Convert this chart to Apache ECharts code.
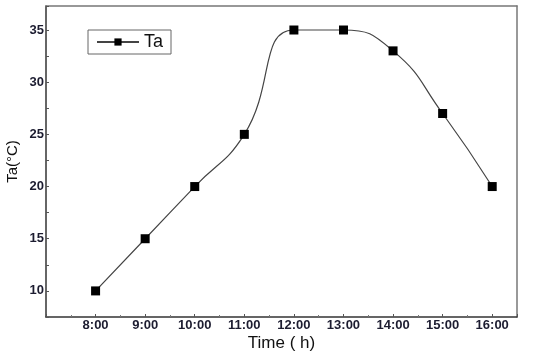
<!DOCTYPE html>
<html><head><meta charset="utf-8">
<script src="https://cdn.jsdelivr.net/npm/echarts@6/dist/echarts.min.js"></script>
<style>html,body{margin:0;padding:0;background:#fff}#c{width:550px;height:359px}</style>
</head><body><div id="c"></div>
<script>
const hours = [8, 9, 10, 11, 12, 13, 14, 15, 16];
const ta = [10, 15, 20, 25, 35, 35, 33, 27, 20];
const seriesName = 'Ta';
const xTitle = 'Time\u00a0( h)';
const yTitle = 'Ta(°C)';

const chart = echarts.init(document.getElementById('c'));
const lblColor = '#1c1c30';
chart.setOption({
  animation: false,
  grid: {left: 46, top: 6, right: 33, bottom: 42, containLabel: false, outerBoundsMode: 'none'},
  legend: {
    data: [{name: seriesName}],
    left: 88, top: 30, itemWidth: 42, itemHeight: 9, itemGap: 4, padding: [3, 8, 3, 8],
    borderColor: '#666', borderWidth: 1, borderRadius: 0,
    textStyle: {fontSize: 18, color: '#111', fontFamily: 'Liberation Sans'}
  },
  xAxis: [{
    type: 'value', min: 7, max: 16.5, interval: 1,
    name: xTitle, nameLocation: 'middle', nameGap: 18, nameMoveOverlap: false,
    nameTextStyle: {fontSize: 17, color: '#111', fontFamily: 'Liberation Sans'},
    axisLine: {lineStyle: {color: '#333', width: 1.5}},
    axisTick: {inside: true, length: 3, lineStyle: {color: '#555'}},
    minorTick: {show: true, splitNumber: 2, length: 2, lineStyle: {color: '#777'}},
    splitLine: {show: false},
    axisLabel: {margin: 2, fontSize: 13, color: lblColor, fontWeight: 'bold', fontFamily: 'Liberation Sans',
      formatter: v => (v >= 8 && v <= 16 && Number.isInteger(v)) ? v + ':00' : ''}
  }, {
    type: 'value', min: 7, max: 16.5, position: 'top',
    axisLine: {lineStyle: {color: '#777', width: 1.5}},
    axisTick: {show: false}, axisLabel: {show: false}, splitLine: {show: false}
  }],
  yAxis: [{
    type: 'value', min: 7.5, max: 37.3, interval: 2.5,
    name: yTitle, nameLocation: 'middle', nameGap: 26, nameMoveOverlap: false,
    nameTextStyle: {fontSize: 15, color: '#111', fontFamily: 'Liberation Sans'},
    axisLine: {show: true, lineStyle: {color: '#333', width: 1.5}},
    axisTick: {inside: true, length: 3, lineStyle: {color: '#555'}},
    splitLine: {show: false},
    axisLabel: {margin: 2, fontSize: 13, color: lblColor, fontWeight: 'bold', fontFamily: 'Liberation Sans',
      formatter: v => (v % 5 === 0) ? String(v) : ''}
  }, {
    type: 'value', min: 7.5, max: 37.3, position: 'right',
    axisLine: {show: true, lineStyle: {color: '#777', width: 1.5}},
    axisTick: {show: false}, axisLabel: {show: false}, splitLine: {show: false}
  }],
  series: [{
    name: seriesName, type: 'line', smooth: 0.5,
    data: hours.map((h, i) => [h, ta[i]]),
    symbol: 'rect', symbolSize: 9,
    itemStyle: {color: '#000'},
    lineStyle: {color: '#444', width: 1.2}
  }]
});
</script></body></html>
